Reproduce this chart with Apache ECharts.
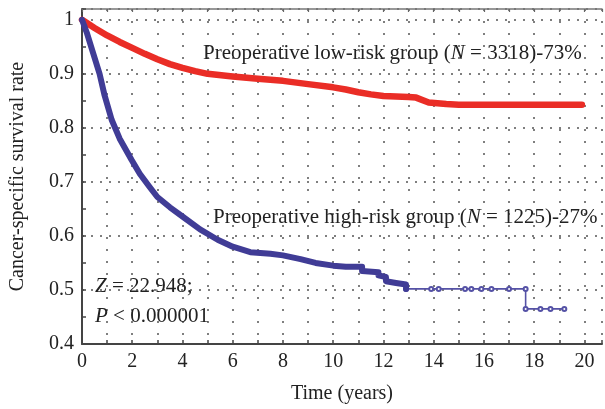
<!DOCTYPE html>
<html>
<head>
<meta charset="utf-8">
<script src="https://cdn.jsdelivr.net/npm/echarts@6/dist/echarts.min.js"></script>
<style>
html,body{margin:0;padding:0;background:#fff;}
#c{width:605px;height:409px;}
</style>
</head>
<body>
<div id="c"></div>
<script>
// ---- data ----
var xTicks = [0, 2, 4, 6, 8, 10, 12, 14, 16, 18, 20];
var yTicks = [0.4, 0.5, 0.6, 0.7, 0.8, 0.9, 1];

var lowRiskT = [0, 0.5, 1, 1.5, 2, 2.5, 3, 3.5, 4, 4.5, 5, 6, 7, 8, 9, 10, 10.5, 11, 11.5, 12, 13, 13.3, 13.8, 14.5, 15, 16, 17, 18, 19, 19.9];
var lowRiskS = [1, 0.985, 0.971, 0.959, 0.948, 0.937, 0.927, 0.918, 0.911, 0.905, 0.9, 0.895, 0.891, 0.887, 0.881, 0.875, 0.871, 0.866, 0.862, 0.859, 0.857, 0.856, 0.847, 0.844, 0.843, 0.843, 0.843, 0.843, 0.843, 0.843];

var highRiskT = [0, 0.2, 0.4, 0.7, 0.9, 1.18, 1.5, 1.97, 2.3, 2.7, 3.0, 3.5, 4.0, 4.7, 5.4, 6.0, 6.7, 7.5, 8.0, 8.7, 9.3, 10.0, 10.5, 11.15, 11.15, 11.8, 11.8, 12.1, 12.1, 12.5, 12.9, 12.9];
var highRiskS = [1, 0.975, 0.945, 0.9, 0.86, 0.815, 0.78, 0.741, 0.715, 0.69, 0.672, 0.653, 0.636, 0.612, 0.593, 0.58, 0.57, 0.567, 0.564, 0.557, 0.55, 0.545, 0.543, 0.543, 0.535, 0.533, 0.527, 0.524, 0.516, 0.513, 0.51, 0.502];

var highTailT = [12.9, 13.9, 14.2, 15.25, 15.5, 15.9, 16.3, 17.0, 17.66, 17.66, 18.25, 18.65, 19.2];
var highTailS = [0.502, 0.502, 0.502, 0.502, 0.502, 0.502, 0.502, 0.502, 0.502, 0.465, 0.465, 0.465, 0.465];

var lowLabel = 'Preoperative low-risk group ({i|N} = 3318)-73%';
var highLabel = 'Preoperative high-risk group ({i|N} = 1225)-27%';
var statLine1 = '{i|Z} = 22.948;';
var statLine2 = '{i|P} < 0.000001';

function pairs(t, s) { return t.map(function (v, i) { return [v, s[i]]; }); }

var FONT = '"Liberation Serif", "DejaVu Serif", serif';
var TXT = '#222222';
var LBL = 21;
var chart = echarts.init(document.getElementById('c'), null, {renderer: 'canvas'});

function rich(size) {
  return {
    i: {fontStyle: 'italic', fontFamily: FONT, fontSize: size, fill: TXT, color: TXT}
  };
}

chart.setOption({
  animation: false,
  backgroundColor: '#ffffff',
  grid: {left: 80, top: 9, width: 525, bottom: 64, containLabel: false},
  xAxis: [{
    type: 'value', min: 0, max: 20.7, interval: 1,
    name: 'Time (years)', nameLocation: 'middle', nameGap: 40,
    nameTextStyle: {fontFamily: FONT, fontSize: 20, color: TXT},
    axisLine: {show: true, lineStyle: {color: '#444', width: 2}},
    axisTick: {show: true, inside: true, length: 4, lineStyle: {color: '#444', width: 1.5}},
    axisLabel: {
      fontFamily: FONT, fontSize: 20, color: TXT, margin: 8,
      formatter: function (v) { return xTicks.indexOf(Math.round(v)) >= 0 && Math.abs(v - Math.round(v)) < 1e-6 ? String(Math.round(v)) : ''; }
    },
    splitLine: {show: true, lineStyle: {color: '#555', width: 1.5, type: [2, 10]}}
  }, {
    type: 'value', position: 'top', min: 0, max: 20.7, interval: 1,
    axisLine: {show: true, lineStyle: {color: '#777', width: 1.5}},
    axisTick: {show: true, inside: true, length: 3, lineStyle: {color: '#666', width: 1.2}},
    axisLabel: {show: false},
    splitLine: {show: false}
  }],
  yAxis: {
    type: 'value', min: 0.4, max: 1.02, interval: 0.1,
    name: 'Cancer-specific survival rate', nameLocation: 'middle', nameGap: 54,
    nameTextStyle: {fontFamily: FONT, fontSize: 20, color: TXT},
    axisLine: {show: true, lineStyle: {color: '#444', width: 2}},
    axisTick: {show: true, inside: true, length: 4, lineStyle: {color: '#444', width: 1.5}},
    minorTick: {show: true, splitNumber: 2, length: 4, lineStyle: {color: '#444', width: 1.5}},
    axisLabel: {
      fontFamily: FONT, fontSize: 20, color: TXT, margin: 8,
      formatter: function (v) {
        for (var k = 0; k < yTicks.length; k++) { if (Math.abs(v - yTicks[k]) < 1e-6) return String(yTicks[k]); }
        return '';
      }
    },
    splitLine: {show: true, lineStyle: {color: '#555', width: 1.5, type: [2, 7]}}
  },
  series: [{
    type: 'line', name: 'low', data: pairs(lowRiskT, lowRiskS),
    showSymbol: false, symbol: 'none',
    lineStyle: {color: '#ea2d26', width: 6.5, cap: 'round', join: 'round'},
    z: 3
  }, {
    type: 'line', name: 'highTail', data: pairs(highTailT, highTailS),
    symbol: 'emptyCircle', symbolSize: 4, showSymbol: true,
    itemStyle: {color: '#5552a6', borderWidth: 1.2},
    lineStyle: {color: '#5552a6', width: 1.6},
    z: 3
  }, {
    type: 'line', name: 'high', data: pairs(highRiskT, highRiskS),
    showSymbol: false, symbol: 'none',
    lineStyle: {color: '#403c96', width: 6, cap: 'round', join: 'round'},
    z: 4
  }],
  graphic: [{
    type: 'text', left: 203, top: 43, z: 10,
    style: {text: lowLabel, fontFamily: FONT, fontSize: LBL, fill: TXT, rich: rich(LBL)}
  }, {
    type: 'text', left: 213, top: 207, z: 10,
    style: {text: highLabel, fontFamily: FONT, fontSize: LBL, fill: TXT, rich: rich(LBL)}
  }, {
    type: 'text', left: 95, top: 276, z: 10,
    style: {text: statLine1, fontFamily: FONT, fontSize: LBL, fill: TXT, rich: rich(LBL)}
  }, {
    type: 'text', left: 95, top: 306, z: 10,
    style: {text: statLine2, fontFamily: FONT, fontSize: LBL, fill: TXT, rich: rich(LBL)}
  }]
});
</script>
</body>
</html>
